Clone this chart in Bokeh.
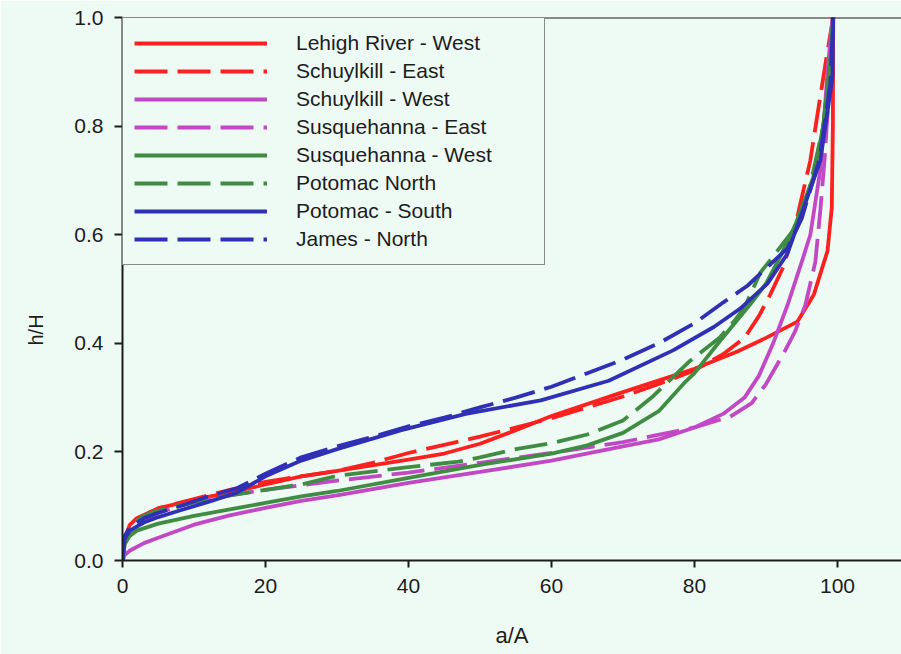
import numpy as np
from bokeh.plotting import figure
from bokeh.models import Legend, LegendItem, FixedTicker, Span, Title, PrintfTickFormatter
from bokeh.embed import file_html
from bokeh.resources import INLINE

# ---- data ----
lehigh_w_x = [0, 0.3, 1, 2, 5, 10, 15, 20, 25, 30, 40, 45, 50, 55, 60, 70, 80, 86, 90, 94.4, 96.7, 98.6, 99.2, 99.35, 99.4]
lehigh_w_y = [0, 0.04, 0.065, 0.078, 0.096, 0.112, 0.125, 0.14, 0.155, 0.165, 0.186, 0.197, 0.215, 0.24, 0.266, 0.31, 0.353, 0.385, 0.41, 0.44, 0.49, 0.57, 0.65, 0.8, 1.0]

schuyl_e_x = [0, 0.3, 1, 2, 5, 10, 15, 20, 25, 30, 35, 40, 45, 50, 55, 60, 65, 70, 75, 80, 84, 87, 89, 90.6, 92.4, 94, 94.8, 96.2, 97.3, 98.5, 99.4]
schuyl_e_y = [0, 0.04, 0.062, 0.076, 0.096, 0.113, 0.13, 0.145, 0.155, 0.165, 0.18, 0.198, 0.213, 0.228, 0.245, 0.262, 0.282, 0.302, 0.325, 0.35, 0.38, 0.41, 0.45, 0.49, 0.54, 0.61, 0.657, 0.737, 0.83, 0.93, 1.0]

schuyl_w_x = [0, 0.3, 1, 3, 5, 10, 15, 20, 25, 30, 40, 50, 60, 70, 75, 80, 84, 87, 89, 91, 93, 95, 96.2, 97.6, 98.6, 99.3]
schuyl_w_y = [0, 0.01, 0.018, 0.032, 0.042, 0.066, 0.083, 0.097, 0.11, 0.12, 0.143, 0.163, 0.184, 0.21, 0.223, 0.245, 0.27, 0.3, 0.34, 0.4, 0.47, 0.55, 0.6, 0.72, 0.9, 1.0]

susq_e_x = [0, 0.3, 1, 3, 5, 10, 15, 20, 30, 40, 50, 60, 70, 80, 85, 88, 90, 92.4, 94, 95.5, 96.9, 97.6, 98.2, 99, 99.4]
susq_e_y = [0, 0.03, 0.05, 0.075, 0.088, 0.108, 0.12, 0.13, 0.147, 0.162, 0.18, 0.198, 0.218, 0.245, 0.265, 0.29, 0.325, 0.38, 0.42, 0.47, 0.55, 0.645, 0.74, 0.9, 1.0]

susq_w_x = [0, 0.3, 1, 2, 5, 10, 15, 20, 25, 30, 40, 50, 60, 65, 70, 75, 78.5, 80, 83, 85.5, 88, 90, 92, 94, 96.6, 98, 99, 99.4]
susq_w_y = [0, 0.03, 0.045, 0.055, 0.068, 0.082, 0.094, 0.106, 0.118, 0.128, 0.152, 0.176, 0.197, 0.212, 0.235, 0.275, 0.326, 0.345, 0.395, 0.435, 0.475, 0.51, 0.56, 0.615, 0.705, 0.8, 0.92, 1.0]

potomac_n_x = [0, 0.3, 1, 2, 3, 5, 10, 15, 20, 25, 30, 40, 47, 50, 55, 60, 65, 70, 74, 79.4, 83.5, 85.5, 87, 89.2, 91, 93.8, 96, 98, 99, 99.4]
potomac_n_y = [0, 0.04, 0.06, 0.073, 0.083, 0.092, 0.107, 0.12, 0.13, 0.14, 0.156, 0.172, 0.182, 0.19, 0.205, 0.216, 0.232, 0.258, 0.3, 0.368, 0.41, 0.44, 0.466, 0.53, 0.56, 0.608, 0.68, 0.8, 0.92, 1.0]

potomac_s_x = [0, 0.3, 1, 3, 5, 8, 12, 16, 20, 25, 30, 39, 48, 58.5, 68, 77, 82.7, 86.4, 90.2, 93, 94.8, 97.6, 99.3, 99.4]
potomac_s_y = [0, 0.04, 0.055, 0.07, 0.08, 0.092, 0.108, 0.125, 0.155, 0.184, 0.205, 0.24, 0.27, 0.295, 0.331, 0.387, 0.43, 0.464, 0.51, 0.565, 0.632, 0.737, 0.89, 1.0]

james_n_x = [0, 0.3, 1, 3, 5, 8, 12, 16, 20, 25, 30, 35, 40, 45, 50, 55, 60, 65, 70, 75, 80, 84, 87.4, 90, 93, 95, 97.5, 99, 99.4]
james_n_y = [0, 0.045, 0.06, 0.078, 0.088, 0.1, 0.118, 0.133, 0.16, 0.19, 0.21, 0.228, 0.247, 0.263, 0.282, 0.3, 0.32, 0.345, 0.37, 0.4, 0.437, 0.475, 0.506, 0.538, 0.575, 0.63, 0.74, 0.88, 1.0]

series_names = ["Lehigh River - West", "Schuylkill - East", "Schuylkill - West",
                "Susquehanna - East", "Susquehanna - West", "Potomac North",
                "Potomac - South", "James - North"]
x_ticks = [0, 20, 40, 60, 80, 100]
y_ticks = [0.0, 0.2, 0.4, 0.6, 0.8, 1.0]
x_label = "a/A"
y_label = "h/H"

# ---- styles ----
RED = "#ff2020"
MAG = "#c248c6"
GRN = "#3f8c42"
BLU = "#3030b6"
BG = "#eefbf4"
INK = "#1c1c1c"
FONT = "Liberation Sans"
DASH = "33 10"

series = [
    (lehigh_w_x, lehigh_w_y, RED, "solid"),
    (schuyl_e_x, schuyl_e_y, RED, DASH),
    (schuyl_w_x, schuyl_w_y, MAG, "solid"),
    (susq_e_x, susq_e_y, MAG, DASH),
    (susq_w_x, susq_w_y, GRN, "solid"),
    (potomac_n_x, potomac_n_y, GRN, DASH),
    (potomac_s_x, potomac_s_y, BLU, "solid"),
    (james_n_x, james_n_y, BLU, DASH),
]

p = figure(width=901, height=654, output_backend="svg", toolbar_location=None,
           x_range=(0, 108.95), y_range=(0, 1.0),
           min_border_left=122, min_border_right=0, min_border_top=17, min_border_bottom=94)

p.background_fill_color = BG
p.border_fill_color = BG
p.outline_line_color = None
p.xgrid.grid_line_color = None
p.ygrid.grid_line_color = None

items = []
for (xs, ys, col, dash), name in zip(series, series_names):
    r = p.line(xs, ys, line_color=col, line_width=3.8, line_dash=dash)
    items.append(LegendItem(label=name, renderers=[r]))

for ax in (p.xaxis[0], p.yaxis[0]):
    ax.axis_line_color = INK
    ax.axis_line_width = 2
    ax.major_tick_line_color = INK
    ax.major_tick_line_width = 2
    ax.major_tick_in = 0
    ax.minor_tick_line_color = None
    ax.major_label_text_font = FONT
    ax.major_label_text_font_size = "21px"
    ax.major_label_text_color = INK

p.xaxis.ticker = FixedTicker(ticks=x_ticks)
p.yaxis.ticker = FixedTicker(ticks=y_ticks)
p.yaxis.formatter = PrintfTickFormatter(format="%.1f")
p.xaxis.major_tick_out = 7
p.yaxis.major_tick_out = 8
p.xaxis.major_label_standoff = 11
p.yaxis.major_label_standoff = 11
p.xaxis.axis_label = x_label
p.xaxis.axis_label_text_font = FONT
p.xaxis.axis_label_text_font_size = "22px"
p.xaxis.axis_label_text_font_style = "normal"
p.xaxis.axis_label_text_color = INK
p.xaxis.axis_label_standoff = 27

# top border of the frame
p.add_layout(Span(location=1.0, dimension="width", line_color=INK, line_width=2))

# y-axis title, pushed toward the left edge as in the picture
p.add_layout(Title(text=y_label, align="left", vertical_align="top", standoff=46, offset=215,
                   text_font=FONT, text_font_size="20px", text_font_style="normal",
                   text_color=INK), "left")

legend = Legend(items=items, location="top_left", margin=0, padding=11, spacing=0,
                glyph_width=133, glyph_height=28, label_height=28, label_width=237,
                label_standoff=29, label_text_font=FONT, label_text_font_size="21px",
                label_text_color=INK, border_line_color=INK, border_line_width=1.5,
                background_fill_color=BG, background_fill_alpha=1.0)
p.add_layout(legend)

open("out.html", "w").write(file_html(p, INLINE))
